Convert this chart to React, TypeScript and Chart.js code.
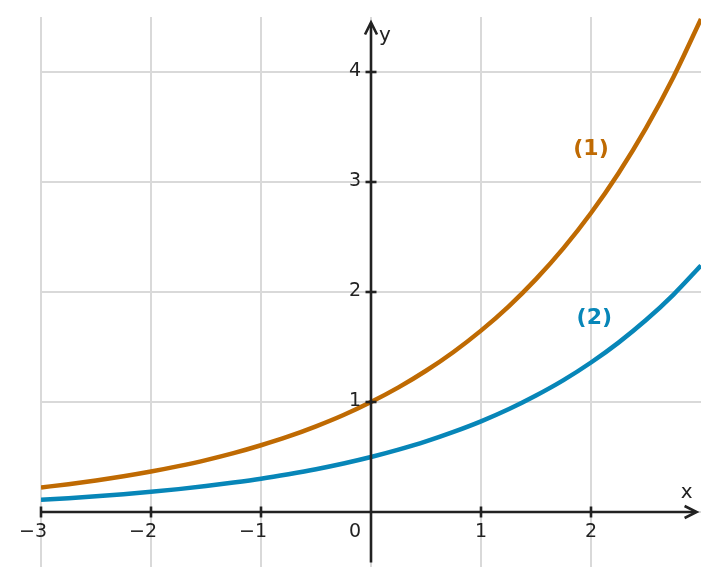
import React, { useEffect, useRef } from "react";
import { Chart, registerables } from "chart.js";

Chart.register(...registerables);

// values
const xValues = [
  -3, -2.75, -2.5, -2.25, -2, -1.75, -1.5, -1.25, -1, -0.75, -0.5, -0.25, 0,
  0.25, 0.5, 0.75, 1, 1.25, 1.5, 1.75, 2, 2.25, 2.5, 2.75, 3,
];
const curve1 = [
  0.223, 0.253, 0.287, 0.325, 0.368, 0.417, 0.472, 0.535, 0.607, 0.687, 0.779,
  0.882, 1.0, 1.133, 1.284, 1.455, 1.649, 1.868, 2.117, 2.399, 2.718, 3.08,
  3.49, 3.955, 4.482,
];
const curve2 = [
  0.112, 0.126, 0.143, 0.162, 0.184, 0.208, 0.236, 0.268, 0.303, 0.344, 0.389,
  0.441, 0.5, 0.567, 0.642, 0.728, 0.824, 0.934, 1.059, 1.199, 1.359, 1.54,
  1.745, 1.977, 2.241,
];
const xTicks = [-3, -2, -1, 0, 1, 2];
const yTicks = [1, 2, 3, 4];
const xGrid = [-3, -2, -1, 0, 1, 2];
const yGrid = [0, 1, 2, 3, 4];
const curveLabels = ["(1)", "(2)"];
const labelPos = [
  [2.0, 3.3],
  [2.03, 1.76],
];

const ORANGE = "#bf6a02";
const BLUE = "#0786b8";
const AXIS = "#222222";
const GRID = "#d9d9d9";
const FONT = "'DejaVu Sans', sans-serif";

const axesPlugin = {
  id: "axesPlugin",
  afterDatasetsDraw(chart: any) {
    const ctx = chart.ctx;
    const xs = chart.scales.x;
    const ys = chart.scales.y;
    const x0 = xs.getPixelForValue(0);
    const y0 = ys.getPixelForValue(0);
    ctx.save();
    ctx.strokeStyle = AXIS;
    ctx.fillStyle = AXIS;
    ctx.lineWidth = 2.6;
    ctx.lineCap = "butt";

    // x axis
    const xStart = xs.getPixelForValue(-3);
    const xEnd = xs.getPixelForValue(2.96);
    ctx.beginPath();
    ctx.moveTo(xStart, y0);
    ctx.lineTo(xEnd - 1, y0);
    ctx.stroke();
    ctx.beginPath();
    ctx.moveTo(xEnd - 12, y0 - 6);
    ctx.lineTo(xEnd, y0);
    ctx.lineTo(xEnd - 12, y0 + 6);
    ctx.stroke();

    // y axis
    const yStart = ys.getPixelForValue(-0.46);
    const yEnd = ys.getPixelForValue(4.45);
    ctx.beginPath();
    ctx.moveTo(x0, yStart);
    ctx.lineTo(x0, yEnd + 1);
    ctx.stroke();
    ctx.beginPath();
    ctx.moveTo(x0 - 6, yEnd + 12);
    ctx.lineTo(x0, yEnd);
    ctx.lineTo(x0 + 6, yEnd + 12);
    ctx.stroke();

    // ticks and tick labels
    ctx.font = `19px ${FONT}`;
    const digitW = ctx.measureText("0").width;
    xTicks.forEach((v) => {
      const px = xs.getPixelForValue(v);
      if (v !== 0) {
        ctx.beginPath();
        ctx.moveTo(px, y0 - 5.5);
        ctx.lineTo(px, y0 + 5.5);
        ctx.stroke();
      }
      ctx.textBaseline = "middle";
      ctx.textAlign = "right";
      if (v === 0) {
        ctx.fillText("0", x0 - 10, y0 + 20);
      } else {
        const txt = v < 0 ? "\u2212" + Math.abs(v) : String(v);
        ctx.fillText(txt, px + digitW / 2, y0 + 20);
      }
    });
    yTicks.forEach((v) => {
      const py = ys.getPixelForValue(v);
      ctx.beginPath();
      ctx.moveTo(x0 - 5.5, py);
      ctx.lineTo(x0 + 5.5, py);
      ctx.stroke();
      ctx.textAlign = "right";
      ctx.textBaseline = "middle";
      ctx.fillText(String(v), x0 - 10, py - 1);
    });

    // axis names
    ctx.font = `20px ${FONT}`;
    ctx.textAlign = "center";
    ctx.fillText("x", xEnd - 10, y0 - 19);
    ctx.fillText("y", x0 + 14, yEnd + 13);

    // curve labels
    ctx.font = `bold 22px ${FONT}`;
    [ORANGE, BLUE].forEach((c, i) => {
      ctx.fillStyle = c;
      ctx.fillText(
        curveLabels[i],
        xs.getPixelForValue(labelPos[i][0]),
        ys.getPixelForValue(labelPos[i][1])
      );
    });
    ctx.restore();
  },
};

const FunctionChart = () => {
  const canvasRef = useRef<HTMLCanvasElement>(null);
  const chartRef = useRef<Chart | null>(null);

  useEffect(() => {
    if (!canvasRef.current) return;
    if (chartRef.current) chartRef.current.destroy();
    chartRef.current = new Chart(canvasRef.current, {
      type: "line",
      data: {
        datasets: [
          {
            label: "(1)",
            data: xValues.map((x, i) => ({ x, y: curve1[i] })),
            borderColor: ORANGE,
            borderWidth: 4.5,
            pointRadius: 0,
            cubicInterpolationMode: "monotone",
          },
          {
            label: "(2)",
            data: xValues.map((x, i) => ({ x, y: curve2[i] })),
            borderColor: BLUE,
            borderWidth: 4.5,
            pointRadius: 0,
            cubicInterpolationMode: "monotone",
          },
        ],
      },
      options: {
        responsive: true,
        maintainAspectRatio: false,
        animation: false,
        layout: { padding: { left: 41, right: 18, top: 17, bottom: 18 } },
        scales: {
          x: {
            type: "linear",
            min: -3,
            max: 3,
            afterBuildTicks: (s: any) => {
              s.ticks = xGrid.map((value) => ({ value }));
            },
            ticks: { display: false },
            grid: { color: GRID, lineWidth: 2, drawTicks: false },
            border: { display: false },
          },
          y: {
            type: "linear",
            min: -0.5,
            max: 4.5,
            afterBuildTicks: (s: any) => {
              s.ticks = yGrid.map((value) => ({ value }));
            },
            ticks: { display: false },
            grid: { color: GRID, lineWidth: 2, drawTicks: false },
            border: { display: false },
          },
        },
        plugins: {
          legend: { display: false },
          tooltip: { enabled: false },
        },
      },
      plugins: [axesPlugin],
    });
    return () => {
      if (chartRef.current) {
        chartRef.current.destroy();
        chartRef.current = null;
      }
    };
  }, []);

  return (
    <div
      style={{
        position: "absolute",
        left: 0,
        top: 0,
        width: 719,
        height: 585,
        background: "#fff",
      }}
    >
      <canvas ref={canvasRef} />
    </div>
  );
};

export default function App() {
  return <FunctionChart />;
}
